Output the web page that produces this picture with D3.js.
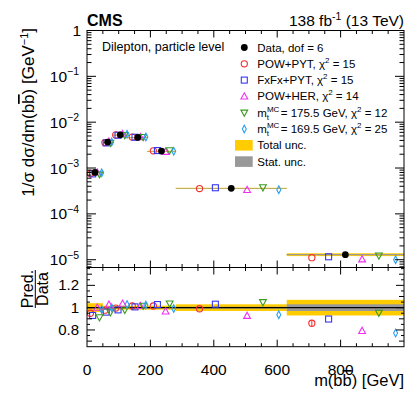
<!DOCTYPE html>
<html><head><meta charset="utf-8">
<script src="https://cdn.jsdelivr.net/npm/d3@7"></script>
<style>
html,body{margin:0;padding:0;background:#fff;}
svg{display:block;font-family:"Liberation Sans",Arial,Helvetica,sans-serif;}
</style></head>
<body><svg id="c" width="407" height="394"></svg>
<script>
// ---- data ----
const binEdges = [0, 50, 80, 130, 190, 280, 630, 1000];
const dataValues = [8.0e-4, 3.68e-3, 5.3e-3, 4.66e-3, 2.34e-3, 3.6e-4, 1.29e-5];
const totalUnc = [0.04, 0.018, 0.017, 0.017, 0.018, 0.03, 0.07];
const statUnc = [0.006, 0.005, 0.004, 0.004, 0.005, 0.008, 0.03];
const modelNames = ["POW+PYT", "FxFx+PYT", "POW+HER", "mt175", "mt169"];
const ratioPowPyt = [0.95, 0.977, 0.996, 1.015, 1.015, 0.99, 0.86];
const ratioFxFx = [0.93, 0.96, 0.98, 1.007, 1.028, 1.031, 0.898];
const ratioPowHer = [1.0, 1.028, 1.036, 1.016, 0.966, 0.927, 0.792];
const ratioMt1755 = [0.913, 0.958, 0.98, 1.016, 1.037, 1.049, 0.954];
const ratioMt1695 = [0.984, 1.0, 1.028, 1.024, 0.993, 0.936, 0.772];
const chi2 = [15, 15, 14, 12, 25];
const xTicks = [0, 200, 400, 600, 800];
const ratioTicks = [0.8, 1, 1.2];
const logExps = [0, -1, -2, -3, -4, -5];

// ---- layout ----
const L = 87, R = 404, T = 30.5, MID = 267.5, B = 346.7;
const svg = d3.select("#c");
const x = d3.scaleLinear().domain([0, 1000]).range([L, R]);
const y = d3.scaleLog().domain([Math.pow(10, -5.17), 1]).range([MID, T]);
const yr = d3.scaleLinear().domain([0.65, 1.36]).range([B, MID]);

const models = [
  {name: modelNames[0], r: ratioPowPyt, col: "#f23030", sym: "circle", slot: 1},
  {name: modelNames[1], r: ratioFxFx, col: "#3838f0", sym: "square", slot: 2},
  {name: modelNames[2], r: ratioPowHer, col: "#f030f0", sym: "tri", slot: 4},
  {name: modelNames[3], r: ratioMt1755, col: "#3a9a20", sym: "itri", slot: 5},
  {name: modelNames[4], r: ratioMt1695, col: "#2aa0f0", sym: "diam", slot: 6}
];
const YEL = "#ffcc00", GRY = "#999999";

function slotX(i, slot) {
  const a = binEdges[i], b = binEdges[i + 1];
  return x(a + (b - a) * (slot + 0.5) / 7);
}
function drawMarker(g, sym, cx, cy, col) {
  if (sym === "circle") {
    g.append("circle").attr("cx", cx).attr("cy", cy).attr("r", 3.1)
      .attr("fill", "none").attr("stroke", col).attr("stroke-width", 1.1);
  } else if (sym === "square") {
    g.append("rect").attr("x", cx - 3).attr("y", cy - 3).attr("width", 6).attr("height", 6)
      .attr("fill", "none").attr("stroke", col).attr("stroke-width", 1.1);
  } else if (sym === "tri") {
    g.append("path").attr("d", `M${cx},${cy - 3.6}L${cx + 3.4},${cy + 2.6}L${cx - 3.4},${cy + 2.6}Z`)
      .attr("fill", "none").attr("stroke", col).attr("stroke-width", 1.1);
  } else if (sym === "itri") {
    g.append("path").attr("d", `M${cx},${cy + 3.6}L${cx + 3.4},${cy - 2.6}L${cx - 3.4},${cy - 2.6}Z`)
      .attr("fill", "none").attr("stroke", col).attr("stroke-width", 1.1);
  } else if (sym === "diam") {
    g.append("path").attr("d", `M${cx},${cy - 3.8}L${cx + 2},${cy}L${cx},${cy + 3.8}L${cx - 2},${cy}Z`)
      .attr("fill", "none").attr("stroke", col).attr("stroke-width", 1.1);
  }
}

// ---- upper panel bands ----
const up = svg.append("g");
dataValues.forEach((v, i) => {
  up.append("rect").attr("x", x(binEdges[i])).attr("width", x(binEdges[i + 1]) - x(binEdges[i]))
    .attr("y", y(v * (1 + totalUnc[i]))).attr("height", Math.max(1.2, y(v * (1 - totalUnc[i])) - y(v * (1 + totalUnc[i]))))
    .attr("fill", YEL);
  up.append("rect").attr("x", x(binEdges[i])).attr("width", x(binEdges[i + 1]) - x(binEdges[i]))
    .attr("y", y(v * (1 + statUnc[i]))).attr("height", Math.max(0.6, y(v * (1 - statUnc[i])) - y(v * (1 + statUnc[i]))))
    .attr("fill", GRY);
});
models.forEach(m => {
  dataValues.forEach((v, i) => {
    drawMarker(up, m.sym, slotX(i, m.slot), y(v * m.r[i]), m.col);
  });
});
dataValues.forEach((v, i) => {
  const cx = x((binEdges[i] + binEdges[i + 1]) / 2);
  up.append("line").attr("x1", cx).attr("x2", cx).attr("y1", y(v * (1 + totalUnc[i]))).attr("y2", y(v * (1 - totalUnc[i])))
    .attr("stroke", "#000").attr("stroke-width", 1);
  up.append("circle").attr("cx", cx).attr("cy", y(v)).attr("r", 3.4).attr("fill", "#000");
});

// ---- ratio panel ----
const rp = svg.append("g");
dataValues.forEach((v, i) => {
  rp.append("rect").attr("x", x(binEdges[i])).attr("width", x(binEdges[i + 1]) - x(binEdges[i]))
    .attr("y", yr(1 + totalUnc[i])).attr("height", yr(1 - totalUnc[i]) - yr(1 + totalUnc[i])).attr("fill", YEL);
  rp.append("rect").attr("x", x(binEdges[i])).attr("width", x(binEdges[i + 1]) - x(binEdges[i]))
    .attr("y", yr(1 + statUnc[i])).attr("height", yr(1 - statUnc[i]) - yr(1 + statUnc[i])).attr("fill", GRY);
});
rp.append("line").attr("x1", L).attr("x2", R).attr("y1", yr(1)).attr("y2", yr(1)).attr("stroke", "#000").attr("stroke-width", 1.2);
rp.append("line").attr("x1", slotX(6, 1)).attr("x2", slotX(6, 1)).attr("y1", yr(0.885)).attr("y2", yr(0.835))
  .attr("stroke", models[0].col).attr("stroke-width", 1);
models.forEach(m => {
  m.r.forEach((r, i) => drawMarker(rp, m.sym, slotX(i, m.slot), yr(r), m.col));
});

// ---- frames and ticks ----
const fr = svg.append("g").attr("fill", "none").attr("stroke", "#000").attr("stroke-width", 1);
fr.append("rect").attr("x", L).attr("y", T).attr("width", R - L).attr("height", MID - T);
fr.append("rect").attr("x", L).attr("y", MID).attr("width", R - L).attr("height", B - MID);

function xTickLines(yy, dir) {
  d3.range(0, 1001, 50).forEach(v => {
    if (v === 0 || v === 1000) return;
    const len = v % 200 === 0 ? 7 : 3.5;
    fr.append("line").attr("x1", x(v)).attr("x2", x(v)).attr("y1", yy).attr("y2", yy + dir * len);
  });
}
xTickLines(T, 1); xTickLines(MID, -1); xTickLines(MID, 1); xTickLines(B, -1);

for (let e = -6; e <= 0; e++) {
  for (let k = 1; k <= 9; k++) {
    const v = k * Math.pow(10, e);
    if (v < y.domain()[0] || v > 1) continue;
    const yy = y(v);
    const len = k === 1 ? 9 : 4.5;
    fr.append("line").attr("x1", L).attr("x2", L + len).attr("y1", yy).attr("y2", yy);
    fr.append("line").attr("x1", R).attr("x2", R - len).attr("y1", yy).attr("y2", yy);
  }
}
d3.range(0.7, 1.36, 0.05).forEach(v => {
  const mid = Math.abs(v * 10 - Math.round(v * 10)) < 1e-6;
  const major = mid && Math.round(v * 10) % 2 === 0;
  const len = major ? 8 : (mid ? 5 : 3);
  const yy = yr(v);
  fr.append("line").attr("x1", L).attr("x2", L + len).attr("y1", yy).attr("y2", yy);
  fr.append("line").attr("x1", R).attr("x2", R - len).attr("y1", yy).attr("y2", yy);
});

// ---- labels ----
const lab = svg.append("g").attr("fill", "#000");
xTicks.forEach(v => {
  lab.append("text").attr("x", x(v)).attr("y", 375).attr("text-anchor", "middle")
    .attr("font-size", 15.5).text(v);
});
ratioTicks.forEach(v => {
  lab.append("text").attr("x", 79).attr("y", yr(v) + 5).attr("text-anchor", "end")
    .attr("font-size", 15).text(v === 1 ? "1" : v.toFixed(1));
});
logExps.forEach(e => {
  const yy = y(Math.pow(10, e));
  if (e === 0) {
    lab.append("text").attr("x", 81).attr("y", yy + 5.5).attr("text-anchor", "end").attr("font-size", 15.5).text("1");
  } else {
    const t = lab.append("text").attr("x", 79).attr("y", yy + 5.5).attr("text-anchor", "end").attr("font-size", 15.5);
    t.append("tspan").text("10");
    t.append("tspan").attr("dy", -6.5).attr("font-size", 10.5).text("\u2212" + (-e));
  }
});

const yt = lab.append("text").attr("transform", "translate(34,28) rotate(-90)").attr("text-anchor", "end").attr("font-size", 17);
yt.append("tspan").text("1/\u03c3 d\u03c3/dm(b");
yt.append("tspan").attr("text-decoration", "overline").text("b");
yt.append("tspan").text(") [GeV");
yt.append("tspan").attr("dy", -6.5).attr("font-size", 11).text("\u22121");
yt.append("tspan").attr("dy", 6.5).text("]");

lab.append("text").attr("transform", "translate(33.3,289) rotate(-90)").attr("text-anchor", "middle").attr("font-size", 16).text("Pred.");
lab.append("line").attr("x1", 35.3).attr("x2", 35.3).attr("y1", 270).attr("y2", 308).attr("stroke", "#000").attr("stroke-width", 1);
lab.append("text").attr("transform", "translate(47.8,289) rotate(-90)").attr("text-anchor", "middle").attr("font-size", 16).text("Data");

const xt = lab.append("text").attr("x", R).attr("y", 386).attr("text-anchor", "end").attr("font-size", 16.5);
xt.append("tspan").text("m(b");
xt.append("tspan").attr("text-decoration", "overline").text("b");
xt.append("tspan").text(") [GeV]");

lab.append("text").attr("x", L).attr("y", 26).attr("font-size", 16).attr("font-weight", "bold").text("CMS");
const hd = lab.append("text").attr("x", R).attr("y", 26).attr("text-anchor", "end").attr("font-size", 15.5);
hd.append("tspan").text("138 fb");
hd.append("tspan").attr("dy", -6).attr("font-size", 10.5).text("-1");
hd.append("tspan").attr("dy", 6).text(" (13 TeV)");

lab.append("text").attr("x", 102).attr("y", 51).attr("font-size", 12.5).text("Dilepton, particle level");

// legend
const lg = svg.append("g");
const LX = 244.3, TX = 257.3, LY0 = 47.5, DY = 16.3;
const ls = 11.5;
lg.append("circle").attr("cx", LX).attr("cy", LY0).attr("r", 3.4).attr("fill", "#000");
lg.append("text").attr("x", TX).attr("y", LY0 + 4).attr("font-size", ls).text("Data, dof = 6");
models.forEach((m, k) => {
  const yy = LY0 + DY * (k + 1);
  drawMarker(lg, m.sym, LX, yy, m.col);
  const t = lg.append("text").attr("x", TX).attr("y", yy + 4).attr("font-size", ls);
  if (k < 3) {
    t.append("tspan").text(m.name + ", \u03c7");
  } else {
    t.append("tspan").text("m");
    t.append("tspan").attr("dy", -5).attr("font-size", 8).text("MC");
    t.append("tspan").attr("dx", -12.5).attr("dy", 8).attr("font-size", 8).text("t");
    t.append("tspan").attr("dx", 8.5).attr("dy", -3).text(k === 3 ? " = 175.5 GeV, \u03c7" : " = 169.5 GeV, \u03c7");
  }
  t.append("tspan").attr("dy", -5).attr("font-size", 8).text("2");
  t.append("tspan").attr("dy", 5).text(" = " + chi2[k]);
});
const by1 = LY0 + DY * 6, by2 = LY0 + DY * 7;
lg.append("rect").attr("x", 235).attr("y", by1 - 5.3).attr("width", 17.7).attr("height", 10.6).attr("fill", YEL);
lg.append("text").attr("x", TX).attr("y", by1 + 4).attr("font-size", ls).text("Total unc.");
lg.append("rect").attr("x", 235).attr("y", by2 - 5.3).attr("width", 17.7).attr("height", 10.6).attr("fill", GRY);
lg.append("text").attr("x", TX).attr("y", by2 + 4).attr("font-size", ls).text("Stat. unc.");
</script></body></html>
